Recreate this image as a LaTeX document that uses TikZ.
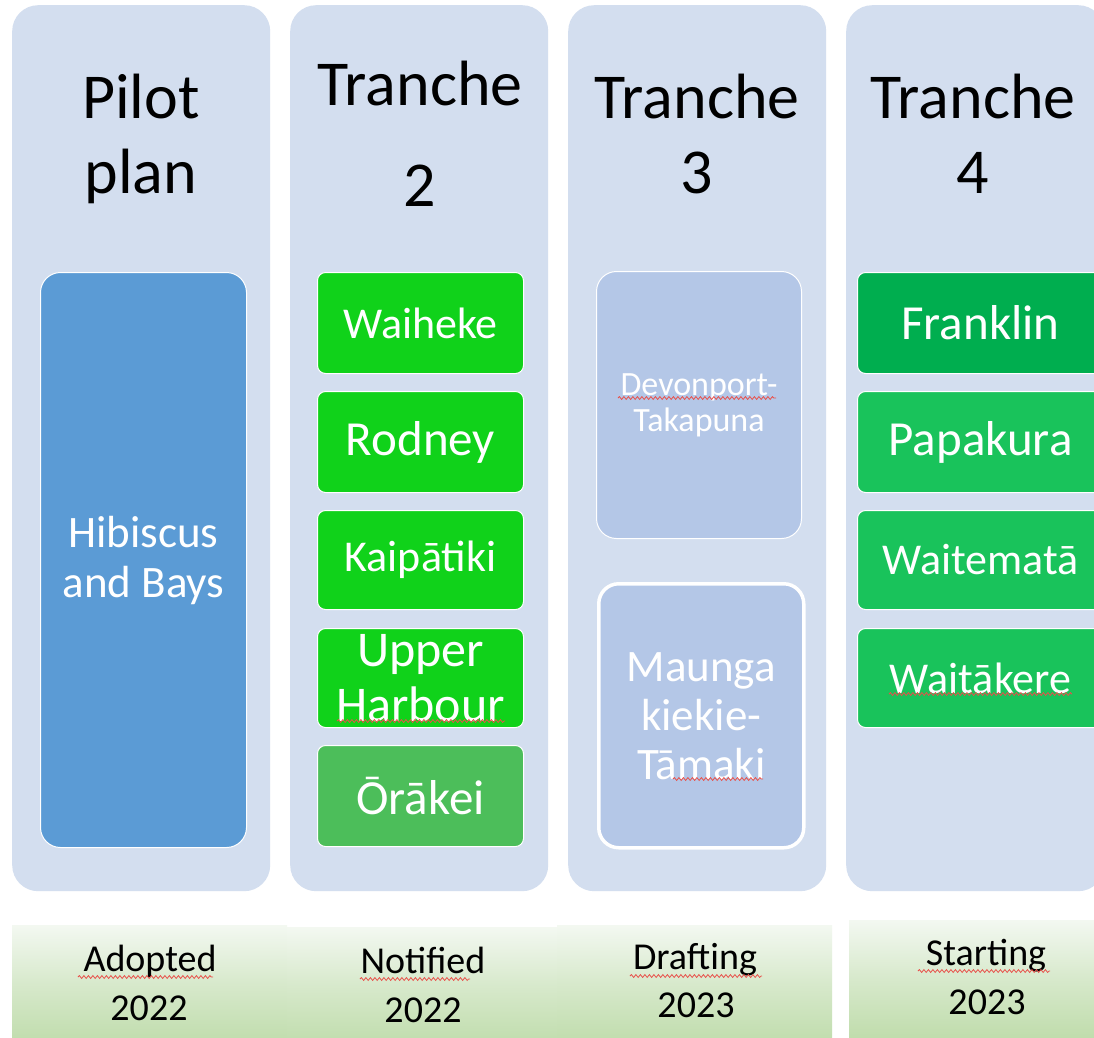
\documentclass[tikz,border=0pt]{standalone}
\usepackage{fontspec}
\setmainfont{Carlito}
\usetikzlibrary{decorations.pathmorphing}
\definecolor{colbg}{HTML}{D3DEEF}
\definecolor{hibblue}{HTML}{5B9BD5}
\definecolor{brightgreen}{HTML}{10D21A}
\definecolor{midgreen}{HTML}{4CBE5A}
\definecolor{paleblue}{HTML}{B4C7E7}
\definecolor{darkgreen}{HTML}{00AE4F}
\definecolor{tealgreen}{HTML}{19C35B}
\definecolor{bartop}{HTML}{F3F8F1}
\definecolor{barbot}{HTML}{BFDCAB}
\definecolor{squigred}{HTML}{E8504A}
\newcommand\myfs[2]{\fontsize{#1}{#2}\selectfont}
\begin{document}
\begin{tikzpicture}[x=1pt,y=-1pt,
  colbox/.style={draw=none, fill=colbg, rounded corners=26pt, minimum width=258pt,
    minimum height=886pt, anchor=north west, inner sep=0pt},
  hdr/.style={anchor=base, inner sep=0pt, font=\myfs{64}{70}, text=black},
  itembox/.style={draw=white, line width=1pt, anchor=north west, inner sep=0pt,
    text=white, align=center, rounded corners=8pt},
  gbox/.style={itembox, minimum width=206pt},
  fbox/.style={itembox, minimum width=246pt},
  bar/.style={draw=none, inner sep=0pt, anchor=north west, minimum height=120pt,
    top color=bartop, bottom color=barbot, middle color=barbot!55!bartop},
  lbl/.style={anchor=base, inner sep=0pt, font=\myfs{38}{44}, text=black},
  squig/.style={draw=squigred, line width=0.8pt, decorate,
    decoration={snake, amplitude=1.4pt, segment length=4.5pt}}
]
\useasboundingbox (0,0) rectangle (1094,1037);
\clip (0,0) rectangle (1094,1037);
\fill[white] (0,0) rectangle (1094,1037);

% columns
\node[colbox] (c1) at (12,5) {};
\node[colbox] (c2) at (290,5) {};
\node[colbox] (c3) at (568,5) {};
\node[colbox] (c4) at (846,5) {};

% headers
\node[hdr] (h1a) at (141,118) {Pilot};
\node[hdr] (h1b) at (141,193) {plan};
\node[hdr] (h2a) at (420,105) {Tranche};
\node[hdr] (h2b) at (420,206) {2};
\node[hdr] (h3a) at (697,118) {Tranche};
\node[hdr] (h3b) at (697,193) {3};
\node[hdr] (h4a) at (973,118) {Tranche};
\node[hdr] (h4b) at (973,193) {4};

% pilot
\node[itembox, fill=hibblue, rounded corners=20pt, minimum width=206pt, minimum height=575pt,
  font=\myfs{45}{50}] (hib) at (40,272) {Hibiscus\\and Bays};

% tranche 2
\node[gbox, fill=brightgreen, minimum height=101pt, font=\myfs{44}{50}] (wai) at (317,272) {Waiheke};
\node[gbox, fill=brightgreen, minimum height=101pt, font=\myfs{49}{54}] (rod) at (317,391) {Rodney};
\node[gbox, fill=brightgreen, minimum height=99pt, font=\myfs{44}{50}] (kai) at (317,510) {Kaipātiki};
\node[gbox, fill=brightgreen, minimum height=99pt, font=\myfs{50}{55}] (uph) at (317,628) {Upper\\Harbour};
\node[gbox, fill=midgreen, minimum height=101pt, font=\myfs{49}{54}] (ora) at (317,745) {Ōrākei};

% tranche 3
\node[itembox, fill=paleblue, rounded corners=20pt, minimum width=205pt, minimum height=267pt,
  font=\myfs{34}{36}] (dev) at (596,271) {Devonport-\\Takapuna};
\node[itembox, fill=paleblue, rounded corners=20pt, line width=3.5pt, minimum width=205pt,
  minimum height=264pt, font=\myfs{45}{49}] (mau) at (597,582) {Maunga\\kiekie-\\Tāmaki};

% tranche 4
\node[fbox, fill=darkgreen, minimum height=101pt, font=\myfs{49}{54}] (fra) at (857,272) {Franklin};
\node[fbox, fill=tealgreen, minimum height=101pt, font=\myfs{49}{54}] (pap) at (857,391) {Papakura};
\node[fbox, fill=tealgreen, minimum height=99pt, font=\myfs{44}{50}] (wtm) at (857,510) {Waitematā};
\node[fbox, fill=tealgreen, minimum height=99pt, font=\myfs{44}{50}] (wtk) at (857,628) {Waitākere};

% status bars
\node[bar, minimum width=275pt] (b1) at (12,925) {};
\node[bar, minimum width=270pt] (b2) at (287,927) {};
\node[bar, minimum width=275pt] (b3) at (557,925) {};
\node[bar, minimum width=250pt] (b4) at (849,920) {};

\node[lbl] (s1a) at (150,971) {Adopted};
\node[lbl] (s1b) at (149,1020) {2022};
\node[lbl] (s2a) at (423,973) {Notified};
\node[lbl] (s2b) at (423,1022) {2022};
\node[lbl] (s3a) at (695,969) {Drafting};
\node[lbl] (s3b) at (696,1017) {2023};
\node[lbl] (s4a) at (986,965) {Starting};
\node[lbl] (s4b) at (987,1014) {2023};

% spell-check underlines
\draw[squig] (78,977) -- (213,977);
\draw[squig] (360,979) -- (470,979);
\draw[squig] (630,976) -- (762,976);
\draw[squig] (918,971) -- (1050,971);
\draw[squig] (618,398) -- (776,398);
\draw[squig] (673,779) -- (763,779);
\draw[squig] (889,694) -- (1072,694);
\draw[squig] (337,721) -- (505,721);
\end{tikzpicture}
\end{document}
